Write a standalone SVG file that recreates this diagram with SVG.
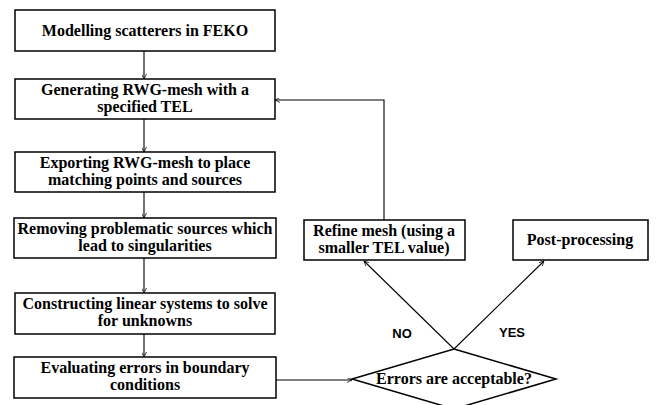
<svg xmlns="http://www.w3.org/2000/svg" width="656" height="405" viewBox="0 0 656 405">
<defs>
<style>
.box{fill:#fff;stroke:#000;stroke-width:1.5}
.c{fill:none;stroke:#000;stroke-width:1.1}
</style>
<marker id="ah" viewBox="0 0 10 10" refX="10" refY="5" markerWidth="5" markerHeight="5" orient="auto" markerUnits="userSpaceOnUse">
<path d="M0,0 L10,5 L0,10" fill="none" stroke="#000" stroke-width="1.5"/>
</marker>
</defs>
<rect width="656" height="405" fill="#fff"/>
<g id="connectors">
<path class="c" d="M144,51 V79" marker-end="url(#ah)"/>
<path class="c" d="M144,119 V152" marker-end="url(#ah)"/>
<path class="c" d="M144,192 V218" marker-end="url(#ah)"/>
<path class="c" d="M144,258 V293" marker-end="url(#ah)"/>
<path class="c" d="M144,334 V357" marker-end="url(#ah)"/>
<path class="c" d="M275,380 H352" marker-end="url(#ah)"/>
<path class="c" d="M384,220 V100 H275" marker-end="url(#ah)"/>
<path class="c" d="M454,349 L364,261" marker-end="url(#ah)"/>
<path class="c" d="M454,349 L544,261" marker-end="url(#ah)"/>
</g>
<g font-family="'Liberation Serif', 'DejaVu Serif', serif" font-weight="bold" font-size="16" text-anchor="middle" fill="#000">
<g id="n1"><rect class="box" x="15" y="10" width="260" height="41"/><text x="145" y="36">Modelling scatterers in FEKO</text></g>
<g id="n2"><rect class="box" x="15" y="79" width="260" height="40"/><text x="145" y="95">Generating RWG-mesh with a</text><text x="145" y="112">specified TEL</text></g>
<g id="n3"><rect class="box" x="15" y="152" width="260" height="40"/><text x="145" y="168">Exporting RWG-mesh to place</text><text x="145" y="185">matching points and sources</text></g>
<g id="n4"><rect class="box" x="14" y="218" width="262" height="40"/><text x="145" y="234">Removing problematic sources which</text><text x="145" y="251">lead to singularities</text></g>
<g id="n5"><rect class="box" x="15" y="293" width="260" height="41"/><text x="145" y="309">Constructing linear systems to solve</text><text x="145" y="326">for unknowns</text></g>
<g id="n6"><rect class="box" x="14" y="357" width="262" height="41"/><text x="145" y="373">Evaluating errors in boundary</text><text x="145" y="390">conditions</text></g>
<g id="n7"><rect class="box" x="304" y="220" width="161" height="40"/><text x="384" y="236">Refine mesh (using a</text><text x="384" y="253">smaller TEL value)</text></g>
<g id="n8"><rect class="box" x="513" y="220" width="135" height="40"/><text x="580" y="245">Post-processing</text></g>
<g id="n9"><polygon class="box" points="454,349 556,379 454,409 352,379"/><text x="454" y="384">Errors are acceptable?</text></g>
</g>
<g id="labels" font-family="'Liberation Sans', Arial, sans-serif" font-weight="bold" font-size="13" text-anchor="middle" fill="#000"><text x="402" y="338">NO</text><text x="512" y="337">YES</text></g>
</svg>
